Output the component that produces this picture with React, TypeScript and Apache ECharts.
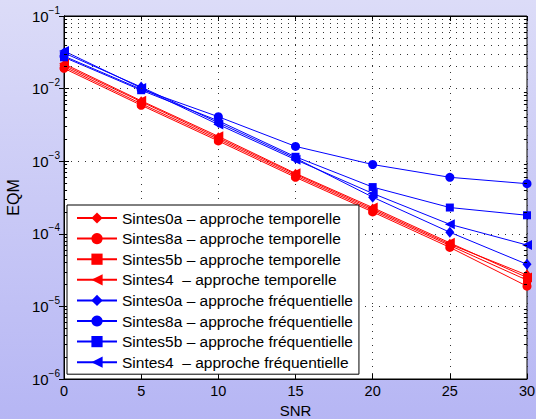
import React, { useEffect, useRef } from "react";
import * as echarts from "echarts";

const snr = [0, 5, 10, 15, 20, 25, 30];
const xTicks = [0, 5, 10, 15, 20, 25, 30];

const s0aTemp = [0.021, 0.0066, 0.0021, 0.00066, 0.00022, 0.000072, 0.000027];
const s8aTemp = [0.019, 0.0059, 0.0019, 0.0006, 0.0002, 0.000065, 0.000019];
const s5bTemp = [0.02, 0.0062, 0.002, 0.00063, 0.00021, 0.000069, 0.000023];
const s4Temp = [0.022, 0.0068, 0.0022, 0.00068, 0.00023, 0.000075, 0.000025];

const s0aFreq = [0.031, 0.0105, 0.0034, 0.0011, 0.00032, 0.000105, 0.000038];
const s8aFreq = [0.028, 0.0098, 0.0041, 0.0016, 0.0009, 0.0006, 0.00049];
const s5bFreq = [0.027, 0.0095, 0.0036, 0.00115, 0.00044, 0.00023, 0.00018];
const s4Freq = [0.033, 0.0102, 0.0032, 0.00105, 0.00036, 0.000135, 0.00007];

const seriesNames = [
  "Sintes0a – approche temporelle",
  "Sintes8a – approche temporelle",
  "Sintes5b – approche temporelle",
  "Sintes4  – approche temporelle",
  "Sintes0a – approche fréquentielle",
  "Sintes8a – approche fréquentielle",
  "Sintes5b – approche fréquentielle",
  "Sintes4  – approche fréquentielle",
];
const seriesValues = [s0aTemp, s8aTemp, s5bTemp, s4Temp, s0aFreq, s8aFreq, s5bFreq, s4Freq];
const yMin = 1e-6;
const yMax = 1e-1;

const FONT = "Liberation Sans, Arial, Helvetica, sans-serif";

export default function App() {
  const ref = useRef<HTMLDivElement>(null);
  useEffect(() => {
    if (!ref.current) return;
    const chart = echarts.init(ref.current, undefined, { renderer: "svg" });

    const symbols = ["diamond", "circle", "rect", "triangle"];
    const sizes: any[] = [[9, 11], 9, 8, 10];
    const rotates = [0, 0, 0, 90];

    const series: any[] = seriesValues.map((vals, i) => {
      const k = i % 4;
      const color = i < 4 ? "#ff0000" : "#0000ff";
      return {
        name: seriesNames[i],
        type: "line",
        data: snr.map((x, j) => [x, vals[j]]),
        symbol: symbols[k],
        symbolSize: sizes[k],
        symbolRotate: rotates[k],
        showSymbol: true,
        lineStyle: { color, width: 1 },
        itemStyle: { color },
        z: 3,
      };
    });

    // minor log grid lines and ticks
    const minorVals: number[] = [];
    for (let e = -6; e <= -2; e++) {
      for (let m = 2; m <= 9; m++) minorVals.push(m * Math.pow(10, e));
    }
    const gridStyle = { color: "#333", width: 1, type: [1, 6] as any };
    const mlData: any[] = [];
    minorVals.forEach((v) => {
      mlData.push({ yAxis: v, lineStyle: gridStyle });
      mlData.push([
        { coord: [0, v], lineStyle: { color: "#000", width: 1, type: "solid" } },
        { coord: [0.2, v] },
      ]);
      mlData.push([
        { coord: [29.8, v], lineStyle: { color: "#000", width: 1, type: "solid" } },
        { coord: [30, v] },
      ]);
    });
    series.push({
      name: "minor",
      type: "line",
      data: [],
      silent: true,
      z: 1,
      markLine: {
        silent: true,
        symbol: ["none", "none"],
        label: { show: false },
        animation: false,
        data: mlData,
      },
    });

    const yLabel = (v: number) => {
      const e = Math.round(Math.log10(v));
      return `{b|10}{s|−${-e}}`;
    };

    chart.setOption({
      animation: false,
      backgroundColor: new echarts.graphic.LinearGradient(0, 0, 0, 1, [
        { offset: 0, color: "#dcdcf8" },
        { offset: 1, color: "#b6b6f4" },
      ]),
      textStyle: { fontFamily: FONT },
      grid: {
        left: 64,
        top: 16,
        right: 9,
        bottom: 40,
        containLabel: false,
        outerBoundsMode: "none",
        show: true,
        backgroundColor: "#ffffff",
        borderColor: "#000",
        borderWidth: 1,
      },
      legend: {
        data: seriesNames,
        orient: "vertical",
        left: 67,
        top: 205,
        backgroundColor: "#ffffff",
        borderColor: "#000",
        borderWidth: 1,
        borderRadius: 0,
        padding: [5, 6, 4, 9],
        itemGap: 4.6,
        itemWidth: 40,
        itemHeight: 14,
        textStyle: { fontSize: 15.5, color: "#000", fontFamily: FONT },
      },
      xAxis: [
        {
          type: "value",
          min: 0,
          max: 30,
          interval: 5,
          name: "SNR",
          nameLocation: "middle",
          nameGap: 17,
          nameTextStyle: { fontSize: 15, lineHeight: 15, color: "#000", fontFamily: FONT },
          axisLine: { show: true, lineStyle: { color: "#000", width: 1 } },
          axisTick: { show: true, inside: true, length: 5, lineStyle: { color: "#000" } },
          axisLabel: {
            fontSize: 14.5,
            lineHeight: 15,
            color: "#000",
            margin: 4,
            fontFamily: FONT,
            formatter: (v: number) => (xTicks.includes(v) ? String(v) : ""),
          },
          splitLine: { show: true, lineStyle: gridStyle },
        },
        {
          type: "value",
          position: "top",
          min: 0,
          max: 30,
          interval: 5,
          axisLine: { show: true, lineStyle: { color: "#000", width: 1 } },
          axisTick: { show: true, inside: true, length: 5, lineStyle: { color: "#000" } },
          axisLabel: { show: false },
          splitLine: { show: false },
        },
      ],
      yAxis: [
        {
          type: "log",
          logBase: 10,
          min: yMin,
          max: yMax,
          name: "EQM",
          nameLocation: "middle",
          nameGap: 41,
          nameTextStyle: { fontSize: 16, color: "#000", fontFamily: FONT },
          axisLine: { show: true, lineStyle: { color: "#000", width: 1 } },
          axisTick: { show: true, inside: true, length: 5, lineStyle: { color: "#000" } },
          axisLabel: {
            margin: 4,
            formatter: yLabel,
            rich: {
              b: { fontSize: 15, color: "#000", fontFamily: FONT, lineHeight: 16 },
              s: {
                fontSize: 10,
                color: "#000",
                fontFamily: FONT,
                padding: [0, 0, 12, 0],
                lineHeight: 10,
              },
            },
          },
          splitLine: { show: true, lineStyle: gridStyle },
        },
        {
          type: "log",
          logBase: 10,
          min: yMin,
          max: yMax,
          position: "right",
          axisLine: { show: true, lineStyle: { color: "#000", width: 1 } },
          axisTick: { show: true, inside: true, length: 5, lineStyle: { color: "#000" } },
          axisLabel: { show: false },
          splitLine: { show: false },
        },
      ],
      series,
    });
    return () => chart.dispose();
  }, []);
  return (
    <div
      ref={ref}
      style={{ position: "fixed", left: 0, top: 0, width: 536, height: 419 }}
    />
  );
}
